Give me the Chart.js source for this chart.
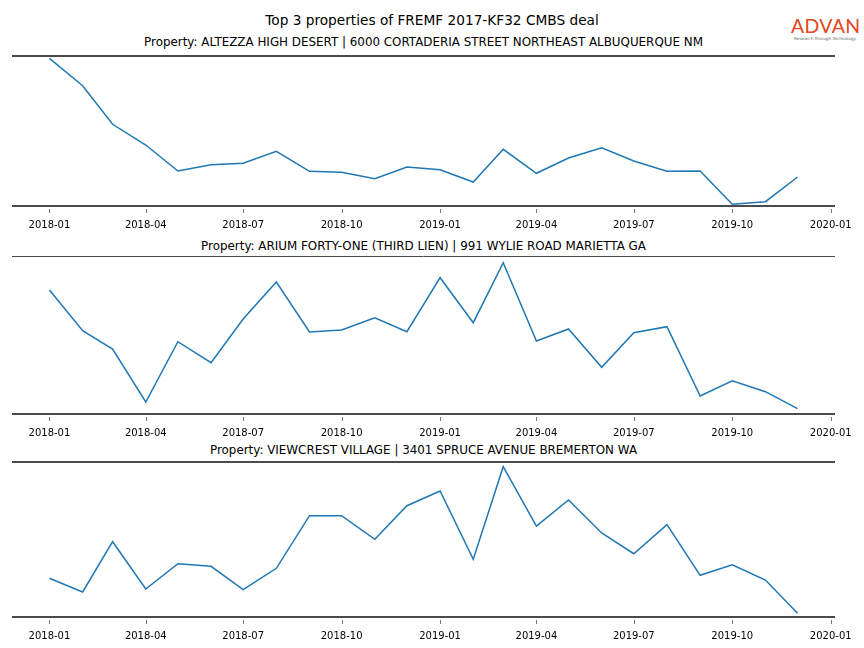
<!DOCTYPE html>
<html>
<head>
<meta charset="utf-8">
<script src="https://cdn.jsdelivr.net/npm/chart.js@4"></script>
<style>
body{margin:0;background:#fff;width:864px;height:648px;position:relative;overflow:hidden;font-family:"DejaVu Sans",sans-serif;}
canvas{position:absolute;left:0;}
.ttl{position:absolute;left:0;width:864px;text-align:center;color:#000;white-space:nowrap;}
.sub{left:12px;width:823px;font-size:11.9px;line-height:17px;}
#logo{position:absolute;left:791px;top:16px;width:68px;text-align:center;}
#logo .big{font-family:"Lato","DejaVu Sans",sans-serif;font-size:19.5px;color:#e0471b;letter-spacing:0.3px;line-height:20px;}
#logo .small{font-size:4.2px;color:#666;line-height:5px;white-space:nowrap;}
</style>
</head>
<body>
<div class="ttl" style="top:11px;font-size:13.7px;line-height:19px">Top 3 properties of FREMF 2017-KF32 CMBS deal</div>
<div class="ttl sub" style="top:34px">Property: ALTEZZA HIGH DESERT | 6000 CORTADERIA STREET NORTHEAST ALBUQUERQUE NM</div>
<div class="ttl sub" style="top:238px">Property: ARIUM FORTY-ONE (THIRD LIEN) | 991 WYLIE ROAD MARIETTA GA</div>
<div class="ttl sub" style="top:442px">Property: VIEWCREST VILLAGE | 3401 SPRUCE AVENUE BREMERTON WA</div>
<div id="logo"><div class="big">ADVAN</div><div class="small">Research through Technology</div></div>

<canvas id="c1" width="864" height="178" style="top:52px"></canvas>
<canvas id="c2" width="864" height="186" style="top:252px"></canvas>
<canvas id="c3" width="864" height="183" style="top:458px"></canvas>

<script>
// ================= DATA =================
const months=["2018-01","2018-02","2018-03","2018-04","2018-05","2018-06","2018-07","2018-08","2018-09","2018-10","2018-11","2018-12",
"2019-01","2019-02","2019-03","2019-04","2019-05","2019-06","2019-07","2019-08","2019-09","2019-10","2019-11","2019-12"];

const altezza=[147.7,120.3,81.7,61,35,41.3,42.7,54.7,34.7,33.7,27.3,39,36.3,24,56.7,32.7,48,58.3,45,34.7,35,1.7,4.3,29];
const arium=[124,83.3,65,12,72.3,51.3,95,132,82,84,96.3,82.3,136.3,91.3,151.3,73,85,46.7,81.3,87.3,18,33.3,22.3,5.3];
const viewcrest=[38.7,25,75.3,28,53.3,50.7,27.3,48.7,101.3,101.3,77.7,111.3,126,57.7,150.3,91,117,84,63.3,92.3,41.7,52.3,37,3.7];

const tickLabels=["2018-01","2018-04","2018-07","2018-10","2019-01","2019-04","2019-07","2019-10","2020-01"];

// ================= HELPERS =================
function dayOf(label){
let p=label.split("-").map(Number);
return (Date.UTC(p[0],p[1]-1,1)-Date.UTC(2018,0,1))/864e5;
}

// top + bottom spines and small tick marks under the axis
const spines={
id:"spines",
afterDraw(chart,args,opts){
let ctx=chart.ctx, a=chart.chartArea, xs=chart.scales.x;
let tw=opts.topWidth||2;
let ty=tw===1?Math.floor(a.top)+0.5:a.top;
ctx.save();
ctx.strokeStyle="#4a4a4a";
ctx.lineWidth=tw;
ctx.beginPath();ctx.moveTo(a.left,ty);ctx.lineTo(a.right,ty);ctx.stroke();
ctx.lineWidth=2;
ctx.beginPath();ctx.moveTo(a.left,a.bottom);ctx.lineTo(a.right,a.bottom);ctx.stroke();
ctx.strokeStyle="#777";
ctx.lineWidth=1;
xs.ticks.forEach(t=>{
let x=Math.round(xs.getPixelForValue(t.value))+0.5;
ctx.beginPath();ctx.moveTo(x,a.bottom+3);ctx.lineTo(x,a.bottom+7);ctx.stroke();
});
ctx.restore();
}
};

function makeChart(id,values,ymax,topWidth){
return new Chart(document.getElementById(id),{
type:"line",
data:{
datasets:[{
data:months.map((m,i)=>({x:dayOf(m),y:values[i]})),
borderColor:"#1f77b4",
borderWidth:1.5,
pointRadius:0,
tension:0,
fill:false,
clip:false
}]
},
options:{
responsive:false,
animation:false,
layout:{padding:{left:12,right:29,top:4,bottom:0}},
plugins:{legend:{display:false},tooltip:{enabled:false},spines:{topWidth:topWidth}},
scales:{
x:{
type:"linear",
min:-35,
max:734,
afterBuildTicks:s=>{s.ticks=tickLabels.map(t=>({value:dayOf(t)}));},
afterFit:s=>{s.height=24;},
ticks:{
callback:(v,i)=>tickLabels[i],
font:{family:"DejaVu Sans",size:10},
color:"#000",
padding:5,
maxRotation:0,
autoSkip:false
},
grid:{display:false},
border:{display:false}
},
y:{display:false,min:0,max:ymax}
}
},
plugins:[spines]
});
}

makeChart("c1",altezza,150,2);
makeChart("c2",arium,158,1);
makeChart("c3",viewcrest,155,2);
</script>
</body>
</html>
